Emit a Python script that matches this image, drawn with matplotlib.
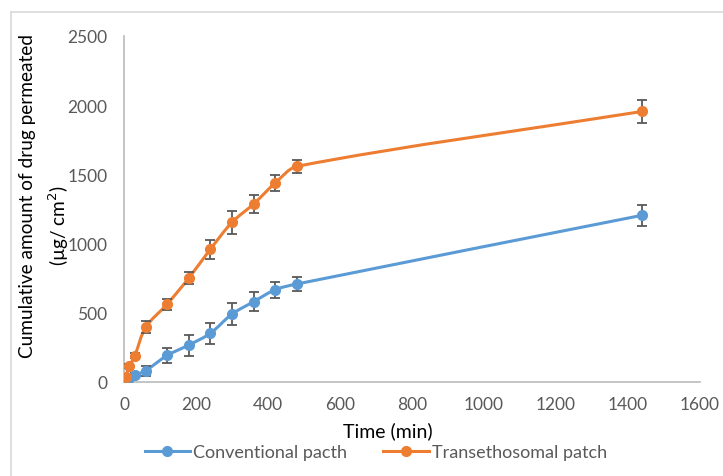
import matplotlib
matplotlib.use("Agg")
import matplotlib.pyplot as plt
from matplotlib.path import Path
from matplotlib.patches import PathPatch
from matplotlib.lines import Line2D
import numpy as np

plt.rcParams['font.family'] = ['Lato', 'DejaVu Sans']

time_min = [5, 15, 30, 60, 120, 180, 240, 300, 360, 420, 480, 1440]
conventional = [15, 30, 48, 82, 192, 267, 352, 491, 580, 667, 708, 1205]
conventional_err = [8, 10, 14, 36, 57, 76, 75, 78, 69, 58, 52, 75]
transethosomal = [38, 113, 190, 395, 563, 751, 960, 1154, 1286, 1438, 1558, 1955]
transethosomal_err = [10, 14, 18, 43, 40, 46, 69, 85, 63, 57, 46, 82]

series_names = ["Conventional pacth", "Transethosomal patch"]
colors = ["#5B9BD5", "#ED7D31"]
x_ticks = [0, 200, 400, 600, 800, 1000, 1200, 1400, 1600]
y_ticks = [0, 500, 1000, 1500, 2000, 2500]

W, H = 723, 477
fig = plt.figure(figsize=(W / 100, H / 100), dpi=100)
ax = fig.add_axes([124 / W, 1 - 383 / H, 576 / W, 346 / H])
ax.set_xlim(0, 1600)
ax.set_ylim(0, 2500)


def smooth_path(x, y, k=0.9):
    # smoothed line through the data points (Bezier), computed in display space
    pts = ax.transData.transform(np.column_stack([x, y]).astype(float))
    n = len(pts)
    verts = [pts[0]]
    codes = [Path.MOVETO]

    def tangent(i):
        a = pts[max(i - 1, 0)]
        b = pts[min(i + 1, n - 1)]
        d = b - a
        return d / (np.hypot(*d) + 1e-9)

    for i in range(n - 1):
        p1, p2 = pts[i], pts[i + 1]
        seg = np.hypot(*(p2 - p1))
        c1 = p1 + tangent(i) * seg / 3.0 * k
        c2 = p2 - tangent(i + 1) * seg / 3.0 * k
        verts += [c1, c2, p2]
        codes += [Path.CURVE4] * 3
    verts = ax.transData.inverted().transform(np.array(verts))
    return Path(verts, codes)


handles = []
for vals, errs, col, name in [(conventional, conventional_err, colors[0], series_names[0]),
                              (transethosomal, transethosomal_err, colors[1], series_names[1])]:
    patch = PathPatch(smooth_path(time_min, vals), facecolor='none', edgecolor=col,
                      lw=2.2, capstyle='round', joinstyle='round', zorder=2)
    ax.add_patch(patch)
    ax.errorbar(time_min, vals, yerr=errs, fmt='none', ecolor='#595959', elinewidth=1.3,
                capsize=3.3, capthick=1.3, zorder=3)
    ax.plot(time_min, vals, 'o', color=col, markersize=7, zorder=4)
    handles.append(Line2D([0], [0], color=col, lw=2.2, marker='o', markersize=7, label=name))

ax.set_xticks(x_ticks)
ax.set_yticks(y_ticks)
ax.tick_params(axis='both', length=0, labelsize=12.5, labelcolor='#595959')
ax.tick_params(axis='y', pad=12)
ax.tick_params(axis='x', pad=10)
for s in ['top', 'right']:
    ax.spines[s].set_visible(False)
for s in ['left', 'bottom']:
    ax.spines[s].set_color('#BFBFBF')
    ax.spines[s].set_linewidth(1.3)

fig.text(388 / W, 1 - 431 / H, "Time (min)", ha='center', va='center', fontsize=14, color='black')
fig.text(28 / W, 1 - 196 / H, "Cumulative amount of drug permeated", rotation=90,
         ha='center', va='center', fontsize=13.7, color='black')
fig.text(59 / W, 1 - 226 / H, "(µg/ cm$^2$)", rotation=90,
         ha='center', va='center', fontsize=13.7, color='black')

leg = fig.legend(handles=handles, loc='center', bbox_to_anchor=(376 / W, 1 - 453 / H), ncol=2,
                 frameon=False, fontsize=13, handlelength=2.5, handletextpad=0.2,
                 columnspacing=2.0, labelcolor='#595959')

# outer frame lines (partial border)
fig.add_artist(Line2D([10.5 / W, 10.5 / W], [0, 1 - 13 / H], transform=fig.transFigure,
                      color='#D9D9D9', lw=1.2))
fig.add_artist(Line2D([10.5 / W, 1], [1 - 13 / H, 1 - 13 / H], transform=fig.transFigure,
                      color='#D9D9D9', lw=1.2))

fig.savefig("out.png", dpi=100)
